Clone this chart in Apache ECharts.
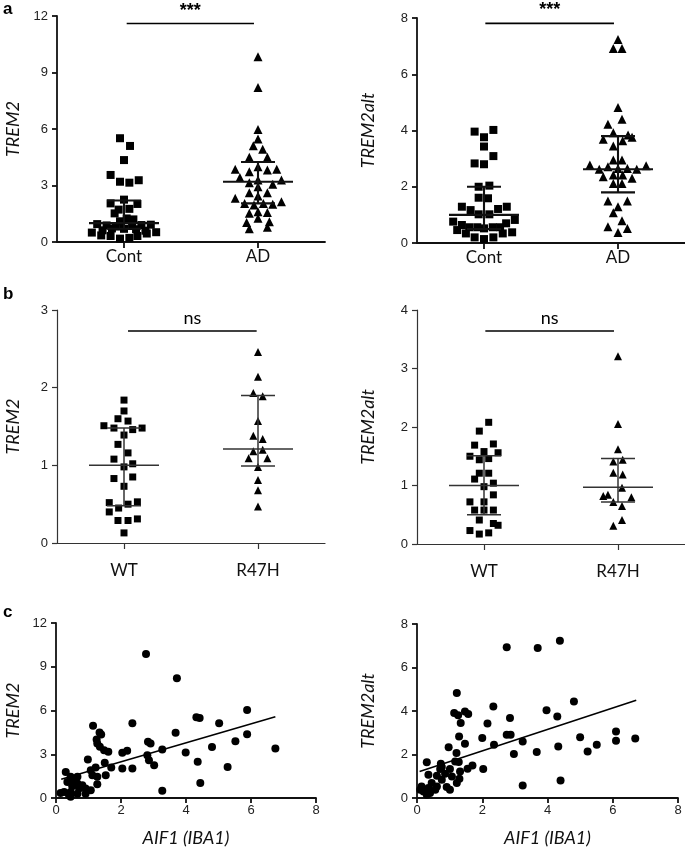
<!DOCTYPE html>
<html><head><meta charset="utf-8">
<script src="https://cdn.jsdelivr.net/npm/echarts@6/dist/echarts.min.js"></script>
<style>html,body{margin:0;padding:0;background:#fff}#c{width:685px;height:848px}</style>
</head><body><div id="c"></div>
<script>
// ---------- categories / tick labels ----------
const groupsA = ['Cont', 'AD'];
const groupsB = ['WT', 'R47H'];
const panelLetters = ['a', 'b', 'c'];
const yNameA = ['TREM2', 'TREM2alt'];
const xNameC = 'AIF1 (IBA1)';

// ---------- panel a : [jitter (in category widths), value] ----------
const aTrem2Cont = [[-0.03,5.51],[0.045,5.10],[0,4.35],[-0.1,3.56],[-0.03,3.2],[0.04,3.15],[0.11,3.28],
  [0,2.25],[-0.1,2.05],[0.1,2.02],[-0.04,1.72],[0.04,1.76],[-0.07,1.52],[0.07,1.2],[-0.03,1.1],[0.02,1.25],
  [-0.2,0.95],[0.2,0.92],[-0.13,0.88],[0.13,0.9],[-0.06,0.82],[0.06,0.85],[0,0.7],[-0.09,0.72],[0.09,0.68],
  [-0.16,0.62],[0.16,0.6],[-0.24,0.5],[0.24,0.52],[-0.17,0.35],[0.17,0.45],[-0.1,0.32],[0.1,0.32],[-0.03,0.18],[0.04,0.22]];
const aTrem2AD = [[0,9.84],[0,8.21],[0,5.98],[0,5.47],[-0.035,5.11],[0.035,4.92],[-0.065,4.50],[0.07,4.50],
  [-0.17,3.86],[-0.065,3.73],[0,4.0],[0.07,3.82],[0.14,3.86],
  [-0.135,3.42],[-0.065,3.15],[0,3.29],[0.11,3.06],[0.175,3.29],[0,2.94],
  [-0.065,2.62],[0.07,2.62],[-0.17,2.32],[0,2.44],
  [-0.1,2.05],[-0.03,1.96],[0.04,2.05],[0.11,2.0],[0.175,2.14],
  [-0.065,1.52],[0,1.61],[0.07,1.56],[-0.085,1.03],[0,1.26],[0.085,1.07],[-0.065,0.7],[0.07,0.78]];
const aTrem2Stats = [[0.7,1.0,2.2],[2.05,3.2,4.25]];          // [Q1, median, Q3]
const aTrem2Sig = [0.02, 0.97, 11.6, '***'];

const aAltCont = [[-0.07,3.96],[0.07,4.02],[0,3.76],[0,3.43],[0.07,3.09],[-0.07,2.83],[0,2.80],
  [-0.04,2.0],[0.04,2.04],[-0.04,1.61],[0.03,1.59],
  [-0.165,1.29],[-0.1,1.17],[0.105,1.21],[0.17,1.29],[-0.04,1.02],[0.04,1.02],
  [-0.23,0.76],[0.23,0.82],[-0.165,0.64],[0.165,0.70],[-0.11,0.56],[-0.05,0.56],[0,0.52],[0.065,0.56],[0.12,0.56],
  [-0.2,0.46],[-0.135,0.34],[0.14,0.34],[0.21,0.38],[-0.07,0.2],[0,0.14],[0.07,0.2]];
const aAltAD = [[0,7.24],[-0.035,6.92],[0.03,6.92],[0,4.82],[0.03,4.4],[-0.075,4.22],
  [-0.035,3.92],[-0.11,3.69],[0.035,3.64],[0.075,3.84],[0.105,3.76],[-0.035,3.45],
  [-0.035,2.95],[0.03,2.95],[-0.21,2.77],[-0.14,2.62],[-0.075,2.71],[0,2.65],[0.07,2.65],[0.14,2.62],[0.21,2.75],
  [-0.11,2.36],[-0.035,2.42],[0.035,2.42],[0.105,2.30],[-0.035,2.12],[0.03,2.12],
  [-0.075,1.49],[0.07,1.49],[0,1.29],[-0.035,1.08],[0.03,0.79],[-0.075,0.58],[0.07,0.52],[0,0.37]];
const aAltStats = [[0.5,1.0,2.0],[1.8,2.62,3.8]];
const aAltSig = [0.01, 0.97, 7.81, '***'];

// ---------- panel b ----------
const bTrem2WT = [[0,1.84],[0,1.70],[-0.045,1.60],[0.03,1.57],[-0.15,1.51],[-0.075,1.48],[0.065,1.46],[0.135,1.48],
  [0,1.39],[-0.045,1.27],[0.03,1.16],[-0.075,1.08],[0,0.98],[0.065,1.02],[-0.075,0.83],[0.065,0.85],[0,0.73],
  [-0.11,0.52],[-0.04,0.45],[0.03,0.50],[0.1,0.53],[-0.11,0.40],[-0.045,0.29],[0.03,0.29],[0.1,0.31],[0,0.13]];
const bTrem2R47H = [[0,2.46],[0,2.14],[-0.035,1.93],[0.035,1.89],[0,1.57],[-0.035,1.38],[0.035,1.34],[-0.035,1.18],
  [0.035,1.20],[-0.07,1.09],[0.07,1.09],[0,0.98],[0,0.81],[0,0.68],[0,0.47]];
const bTrem2Stats = [[0.48,1.0,1.48],[0.99,1.21,1.9]];
const bTrem2Sig = [0.03, 0.99, 2.73, 'ns'];

const bAltWT = [[0.035,2.08],[-0.035,1.93],[-0.07,1.69],[0.07,1.71],[-0.105,1.50],[0,1.58],[0.105,1.56],[-0.035,1.44],
  [0.035,1.46],[-0.035,1.21],[0.035,1.21],[-0.07,1.11],[0.07,1.04],[0,0.98],[0.07,0.84],[-0.105,0.72],[0,0.72],
  [-0.07,0.58],[0,0.58],[0.07,0.58],[-0.035,0.41],[0.07,0.35],[0.105,0.32],[-0.105,0.23],[-0.035,0.17],[0.035,0.19]];
const bAltR47H = [[0,3.21],[0,2.05],[0,1.62],[-0.035,1.41],[0.035,1.44],[-0.035,1.22],[0.035,1.19],[0.03,0.96],
  [-0.11,0.82],[-0.075,0.84],[0.1,0.80],[-0.035,0.72],[0.03,0.65],[0.03,0.41],[-0.035,0.31]];
const bAltStats = [[0.5,1.0,1.51],[0.72,0.97,1.46]];
const bAltSig = [0.01, 0.97, 3.64, 'ns'];

// ---------- panel c : [AIF1, value] ----------
const cTrem2 = [[2.77,9.87],[3.72,8.22],[5.88,6.04],[4.32,5.53],[4.42,5.49],[5.02,5.12],[2.35,5.12],[1.14,4.96],
  [1.34,4.5],[1.39,4.36],[3.68,4.47],[5.88,4.37],[1.25,4.02],[1.27,3.74],[5.52,3.9],[1.35,3.51],[1.48,3.28],
  [1.61,3.17],[2.04,3.10],[2.19,3.24],[2.83,3.86],[2.91,3.74],[3.27,3.33],[2.81,2.94],[2.86,2.59],[3.02,2.25],
  [3.99,3.12],[4.8,3.5],[6.75,3.4],[0.98,2.64],[1.5,2.41],[1.22,2.09],[1.70,2.09],[2.04,2.02],[2.35,2.02],
  [1.07,1.91],[1.12,1.56],[1.53,1.56],[1.27,1.45],[0.30,1.79],[1.27,0.94],[3.27,0.5],[4.36,2.48],[5.28,2.13],
  [4.44,1.03],[0.45,1.45],[0.66,1.45],[0.55,1.22],[0.35,1.10],[0.66,0.99],[0.81,0.87],[0.50,0.80],[0.71,0.65],
  [0.91,0.65],[1.07,0.53],[0.25,0.41],[0.45,0.41],[0.66,0.30],[0.14,0.34],[0.40,0.19],[0.91,0.30],[0.45,0.08]];
const cTrem2Fit = [[0.16,1.29],[6.75,5.57]];

const cAlt = [[2.75,6.93],[3.70,6.9],[4.38,7.23],[1.22,4.83],[4.81,4.44],[2.34,4.21],[3.97,4.03],[4.30,3.75],
  [2.85,3.68],[1.14,3.91],[1.26,3.80],[1.47,3.98],[1.57,3.86],[1.34,3.45],[2.16,3.42],[1.29,2.83],[2.75,2.91],
  [2.87,2.91],[0.97,2.33],[1.47,2.50],[1.21,2.07],[2.0,2.76],[2.36,2.45],[3.24,2.60],[2.97,2.02],[3.67,2.11],
  [4.33,2.37],[5.0,2.79],[5.23,2.14],[5.51,2.45],[6.1,3.06],[6.1,2.63],[6.69,2.73],[3.24,0.58],[4.40,0.81],
  [2.03,1.33],[1.55,1.35],[1.70,1.50],[1.28,1.65],[0.30,1.64],[0.73,1.58],[0.76,1.43],[1.17,1.68],[0.35,1.07],
  [0.71,1.33],[1.01,1.33],[0.86,1.12],[1.32,1.22],[1.30,0.89],[1.07,0.99],[0.61,1.02],[0.76,0.84],[1.22,0.69],
  [0.45,0.69],[0.14,0.53],[0.35,0.46],[0.61,0.53],[0.91,0.51],[1.01,0.38],[0.2,0.30],[0.4,0.23],[0.56,0.38],
  [0.1,0.38],[0.3,0.15]];
const cAltFit = [[0.08,1.22],[6.72,4.49]];

// ---------- chart ----------
const chart = echarts.init(document.getElementById('c'));
const BLACK = '#111';
const tickFont = {fontFamily: 'Liberation Sans', fontSize: 13, color: '#222'};
const catFont = {fontFamily: 'Lato', fontSize: 17, color: '#111'};
const nameFont = {fontFamily: 'Lato', fontStyle: 'italic', fontSize: 18, color: '#111'};

const grids = [
  {left: 57, top: 16, width: 268, height: 226},
  {left: 417, top: 18, width: 268, height: 225},
  {left: 57, top: 310, width: 268, height: 233},
  {left: 417, top: 310, width: 268, height: 234},
  {left: 56, top: 623, width: 260, height: 175},
  {left: 417, top: 624, width: 261, height: 174}
].map(g => Object.assign(g, {containLabel: false, outerBoundsMode: 'none'}));

const xAxes = [], yAxes = [], series = [];

function lineSty(lw, col) { return {color: col, width: lw}; }

function yAx(gi, max, interval, name, gap, lw, col) {
  yAxes.push({gridIndex: gi, type: 'value', min: 0, max: max, interval: interval,
    name: name, nameLocation: 'middle', nameGap: gap, nameTextStyle: nameFont,
    axisLine: {show: true, onZero: false, lineStyle: lineSty(lw, col)},
    axisTick: {show: true, length: 5, lineStyle: lineSty(lw, col)},
    axisLabel: Object.assign({margin: 9}, tickFont), splitLine: {show: false}});
  return yAxes.length - 1;
}

function dotPanel(gi, cats, g0, g1, stats, sig, ymax, yint, yname, ygap, labMargin, lw, col, symSize, sigFont, sigDy) {
  xAxes.push({gridIndex: gi, type: 'category', data: cats, boundaryGap: true,
    axisLine: {show: true, onZero: false, lineStyle: lineSty(lw, col)},
    axisTick: {show: true, alignWithLabel: true, length: 6, lineStyle: lineSty(lw, col)},
    axisLabel: Object.assign({margin: labMargin}, catFont), splitLine: {show: false}});
  xAxes.push({gridIndex: gi, type: 'value', min: -0.5, max: 1.5, show: false, splitLine: {show: false}});
  const xi = xAxes.length - 1;
  const yi = yAx(gi, ymax, yint, yname, ygap, lw, col);
  series.push({type: 'scatter', xAxisIndex: xi, yAxisIndex: yi, symbol: 'rect', symbolSize: symSize,
    itemStyle: {color: '#000', opacity: 1}, data: g0.map(d => [0 + d[0], d[1]]), z: 3});
  series.push({type: 'scatter', xAxisIndex: xi, yAxisIndex: yi, symbol: 'triangle', symbolSize: symSize + 1,
    itemStyle: {color: '#000', opacity: 1}, data: g1.map(d => [1 + d[0], d[1]]), z: 3});
  series.push({type: 'custom', xAxisIndex: xi, yAxisIndex: yi, z: 4,
    data: stats.map((s, i) => [i, s[0], s[1], s[2]]),
    renderItem: function (params, api) {
      const x = api.value(0);
      const pm = api.coord([x, api.value(2)]), p1 = api.coord([x, api.value(1)]), p3 = api.coord([x, api.value(3)]);
      const W = 35, w = 17;
      const st = {stroke: col, lineWidth: lw + 0.3};
      return {type: 'group', children: [
        {type: 'line', shape: {x1: pm[0] - W, y1: pm[1], x2: pm[0] + W, y2: pm[1]}, style: st},
        {type: 'line', shape: {x1: p1[0] - w, y1: p1[1], x2: p1[0] + w, y2: p1[1]}, style: st},
        {type: 'line', shape: {x1: p3[0] - w, y1: p3[1], x2: p3[0] + w, y2: p3[1]}, style: st},
        {type: 'line', shape: {x1: p1[0], y1: p1[1], x2: p3[0], y2: p3[1]}, style: st}
      ]};
    }});
  series.push({type: 'custom', xAxisIndex: xi, yAxisIndex: yi, z: 4, clip: false,
    data: [[sig[0], sig[2], sig[1]]],
    renderItem: function (params, api) {
      const a = api.coord([api.value(0), api.value(1)]);
      const b = api.coord([api.value(2), api.value(1)]);
      return {type: 'group', children: [
        {type: 'line', shape: {x1: a[0], y1: a[1], x2: b[0], y2: a[1]}, style: {stroke: '#000', lineWidth: 1.6}},
        {type: 'text', x: (a[0] + b[0]) / 2, y: a[1] - sigDy,
          style: Object.assign({text: sig[3], fill: '#000', align: 'center', verticalAlign: 'middle'}, sigFont)}
      ]};
    }});
}

function scatterPanel(gi, pts, fit, ymax, yint, yname, ygap) {
  xAxes.push({gridIndex: gi, type: 'value', min: 0, max: 8, interval: 2,
    name: xNameC, nameLocation: 'middle', nameGap: 31, nameTextStyle: nameFont,
    axisLine: {show: true, onZero: false, lineStyle: lineSty(1.8, BLACK)},
    axisTick: {show: true, length: 5, lineStyle: lineSty(1.8, BLACK)},
    axisLabel: Object.assign({margin: 6}, tickFont), splitLine: {show: false}});
  const xi = xAxes.length - 1;
  const yi = yAx(gi, ymax, yint, yname, ygap, 1.8, BLACK);
  series.push({type: 'scatter', xAxisIndex: xi, yAxisIndex: yi, symbol: 'circle', symbolSize: 8,
    itemStyle: {color: '#000', opacity: 1}, data: pts});
  series.push({type: 'line', xAxisIndex: xi, yAxisIndex: yi, data: fit, symbol: 'none',
    lineStyle: {color: '#000', width: 1.6}, silent: true});
}

const astFont = {fontFamily: 'Liberation Sans', fontSize: 18, fontWeight: 'bold'};
const nsFont = {fontFamily: 'Lato', fontSize: 18};

dotPanel(0, groupsA, aTrem2Cont, aTrem2AD, aTrem2Stats, aTrem2Sig, 12, 3, yNameA[0], 35, 6, 1.8, BLACK, 8, astFont, 13);
dotPanel(1, groupsA, aAltCont, aAltAD, aAltStats, aAltSig, 8, 2, yNameA[1], 40, 6, 1.8, BLACK, 8, astFont, 13);
dotPanel(2, groupsB, bTrem2WT, bTrem2R47H, bTrem2Stats, bTrem2Sig, 3, 1, yNameA[0], 35, 19, 1.2, '#333', 7, nsFont, 13);
dotPanel(3, groupsB, bAltWT, bAltR47H, bAltStats, bAltSig, 4, 1, yNameA[1], 40, 19, 1.2, '#333', 7, nsFont, 13);
scatterPanel(4, cTrem2, cTrem2Fit, 12, 3, yNameA[0], 34);
scatterPanel(5, cAlt, cAltFit, 8, 2, yNameA[1], 40);

const letterY = [10, 295, 613];
chart.setOption({
  animation: false,
  backgroundColor: '#fff',
  grid: grids,
  xAxis: xAxes,
  yAxis: yAxes,
  series: series,
  graphic: panelLetters.map((t, i) => ({type: 'text', left: 3, top: letterY[i] - 9,
    style: {text: t, fontFamily: 'Liberation Sans', fontWeight: 'bold', fontSize: 17, fill: '#000'}}))
});
</script></body></html>
